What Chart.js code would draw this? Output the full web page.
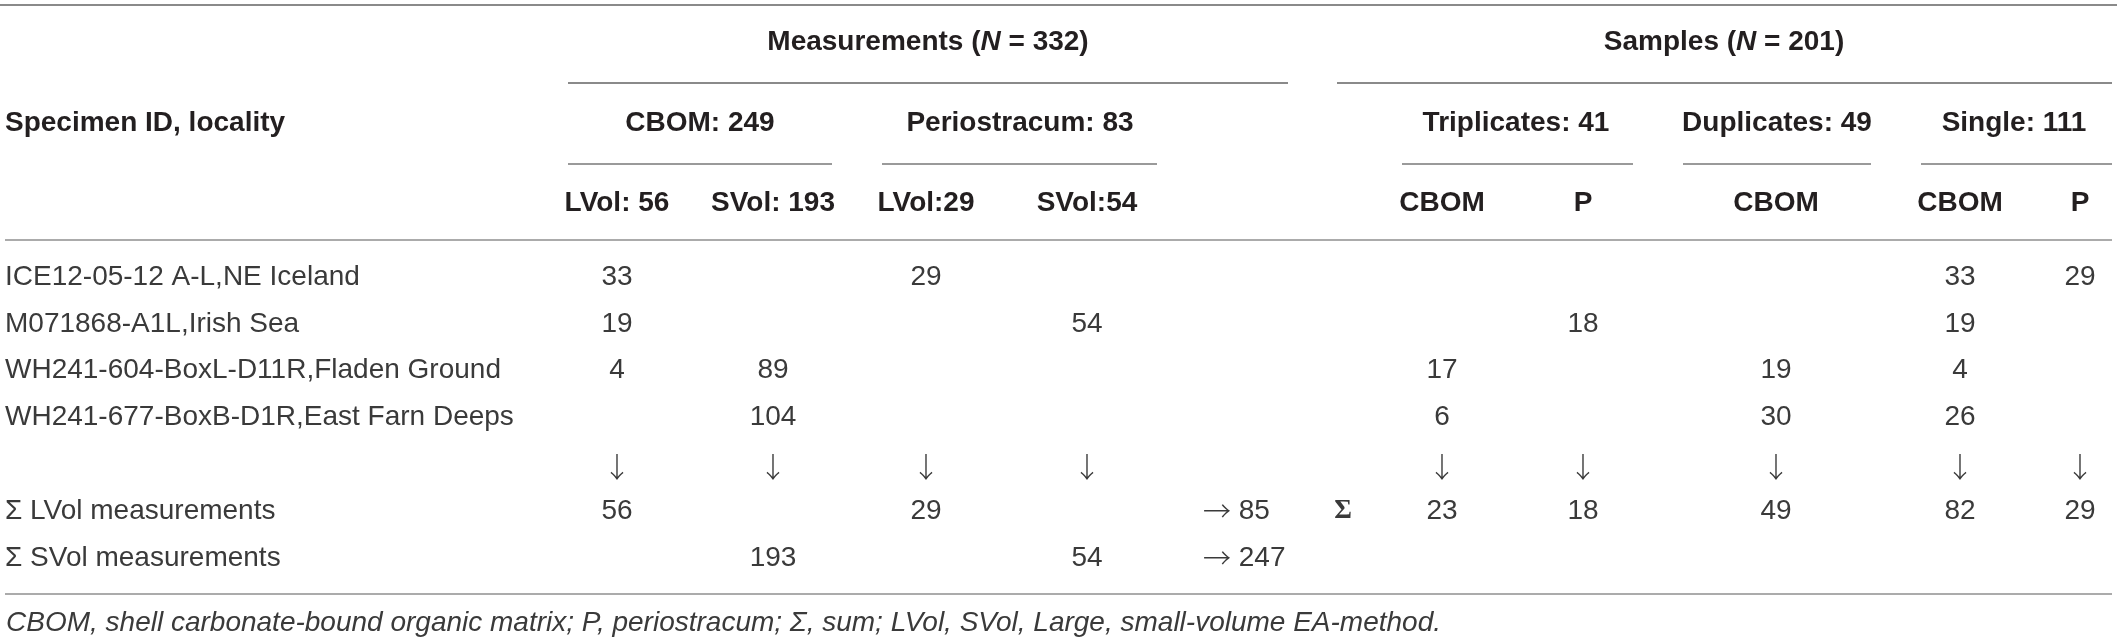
<!DOCTYPE html>
<html><head><meta charset="utf-8">
<script src="https://cdn.jsdelivr.net/npm/chart.js@4.4.1/dist/chart.umd.min.js"></script>
<style>html,body{margin:0;padding:0;background:#fff;overflow:hidden}canvas{display:block}</style>
</head><body>
<canvas id="c" width="2117" height="644"></canvas>
<script>
// ---------- DATA ----------
const specimens = [
  "ICE12-05-12 A-L,NE Iceland",
  "M071868-A1L,Irish Sea",
  "WH241-604-BoxL-D11R,Fladen Ground",
  "WH241-677-BoxB-D1R,East Farn Deeps"
];
const columns = ["cbomL", "cbomS", "periL", "periS", "tripC", "tripP", "dupC", "singC", "singP"];
const subHeaders = ["LVol: 56", "SVol: 193", "LVol:29", "SVol:54", "CBOM", "P", "CBOM", "CBOM", "P"];
const groupHeaders = ["CBOM: 249", "Periostracum: 83", "Triplicates: 41", "Duplicates: 49", "Single: 111"];
const topHeaders = ["Measurements", "Samples"];
const topCounts = ["332", "201"];
const stubHeader = "Specimen ID, locality";

const cbomLVol   = [33, 19, 4, null];
const cbomSVol   = [null, null, 89, 104];
const periLVol   = [29, null, null, null];
const periSVol   = [null, 54, null, null];
const tripCBOM   = [null, null, 17, 6];
const tripP      = [null, 18, null, null];
const dupCBOM    = [null, null, 19, 30];
const singleCBOM = [33, 19, 4, 26];
const singleP    = [29, null, null, null];

const arrowRow = ["↓", "↓", "↓", "↓", "↓", "↓", "↓", "↓", "↓"];
const sumLabels = ["Σ LVol measurements", "Σ SVol measurements"];
const sumLVol = [56, null, 29, null, 23, 18, 49, 82, 29];
const sumSVol = [null, 193, null, 54, null, null, null, null, null];
const totals = ["85", "247"];
const totalArrow = "→";
const sampleSigma = "Σ";
const footnote = "CBOM, shell carbonate-bound organic matrix; P, periostracum; Σ, sum; LVol, SVol, Large, small-volume EA-method.";

// ---------- LAYOUT / STYLE ----------
const W = 2117, H = 644;
const colX = { cbomL: 617, cbomS: 773, periL: 926, periS: 1087, tripC: 1442, tripP: 1583, dupC: 1776, singC: 1960, singP: 2080 };
const totalX = 1203, sigmaX = 1343, leftX = 5;
const groupX = [700, 1020, 1516, 1777, 2014];
const topX = [928, 1724];
const rowY = { top: 42, group: 123, sub: 203, body: [277, 324, 370, 417], arrow: 467, sumL: 511, sumS: 558, foot: 623 };
const rules = [
  { x1: 0, x2: 2117, y: 5, c: "#8a8a8a" },
  { x1: 568, x2: 1288, y: 83, c: "#8a8a8a" },
  { x1: 1337, x2: 2112, y: 83, c: "#8a8a8a" },
  { x1: 568, x2: 832, y: 164, c: "#9a9a9a" },
  { x1: 882, x2: 1157, y: 164, c: "#9a9a9a" },
  { x1: 1402, x2: 1633, y: 164, c: "#9a9a9a" },
  { x1: 1683, x2: 1871, y: 164, c: "#9a9a9a" },
  { x1: 1921, x2: 2112, y: 164, c: "#9a9a9a" },
  { x1: 5, x2: 2112, y: 240, c: "#ababab" },
  { x1: 5, x2: 2112, y: 594, c: "#ababab" }
];
const FONT = "'Liberation Sans', Arial, sans-serif";
const F_HEAD = "bold 28px " + FONT;
const F_HEAD_I = "italic bold 28px " + FONT;
const F_BODY = "28px " + FONT;
const F_ARROW = "300 28px 'Noto Sans CJK JP', 'DejaVu Sans', sans-serif";
const styles = {
  head:  { font: F_HEAD, color: "#231f20", align: "center" },
  headL: { font: F_HEAD, color: "#231f20", align: "left" },
  body:  { font: F_BODY, color: "#3a3a3a", align: "center" },
  bodyL: { font: F_BODY, color: "#3a3a3a", align: "left" },
  arrow: { font: F_ARROW, color: "#3a3a3a", align: "center" },
  sigma: { font: "bold 27px 'Liberation Serif', serif", color: "#3a3a3a", align: "center" },
  foot:  { font: "italic 28px " + FONT, color: "#3a3a3a", align: "left" }
};

// ---------- BUILD ----------
const bodyCols = [cbomLVol, cbomSVol, periLVol, periSVol, tripCBOM, tripP, dupCBOM, singleCBOM, singleP];
const texts = { head: [], headL: [], body: [], bodyL: [], arrow: [], sigma: [], foot: [] };
texts.headL.push({ x: leftX, y: rowY.group, t: stubHeader });
topHeaders.forEach((h, i) => texts.head.push({ x: topX[i], y: rowY.top, rich: [[h + " (", F_HEAD], ["N", F_HEAD_I], [" = " + topCounts[i] + ")", F_HEAD]] }));
groupHeaders.forEach((h, i) => texts.head.push({ x: groupX[i], y: rowY.group, t: h }));
subHeaders.forEach((h, i) => texts.head.push({ x: colX[columns[i]], y: rowY.sub, t: h }));
specimens.forEach((s, r) => {
  texts.bodyL.push({ x: leftX, y: rowY.body[r], t: s });
  bodyCols.forEach((col, c) => { if (col[r] !== null) texts.body.push({ x: colX[columns[c]], y: rowY.body[r], t: String(col[r]) }); });
});
arrowRow.forEach((a, c) => texts.arrow.push({ x: colX[columns[c]], y: rowY.arrow, t: a }));
texts.bodyL.push({ x: leftX, y: rowY.sumL, t: sumLabels[0] });
texts.bodyL.push({ x: leftX, y: rowY.sumS, t: sumLabels[1] });
sumLVol.forEach((v, c) => { if (v !== null) texts.body.push({ x: colX[columns[c]], y: rowY.sumL, t: String(v) }); });
sumSVol.forEach((v, c) => { if (v !== null) texts.body.push({ x: colX[columns[c]], y: rowY.sumS, t: String(v) }); });
texts.bodyL.push({ x: totalX, y: rowY.sumL, rich: [[totalArrow, F_ARROW], [" " + totals[0], F_BODY]] });
texts.bodyL.push({ x: totalX, y: rowY.sumS, rich: [[totalArrow, F_ARROW], [" " + totals[1], F_BODY]] });
texts.sigma.push({ x: sigmaX, y: rowY.sumL, t: sampleSigma });
texts.foot.push({ x: leftX + 1, y: rowY.foot, t: footnote });

const datasets = [];
rules.forEach(r => datasets.push({ type: "line", data: [{ x: r.x1, y: r.y }, { x: r.x2, y: r.y }], borderColor: r.c, borderWidth: 2, pointRadius: 0, showLine: true, fill: false, clip: false }));
Object.keys(texts).forEach(k => datasets.push({ type: "scatter", data: texts[k], textStyle: k, pointRadius: 0, clip: false }));

const textPlugin = {
  id: "cellText",
  afterDatasetsDraw(chart) {
    const ctx = chart.ctx;
    chart.data.datasets.forEach((ds, i) => {
      if (!ds.textStyle) return;
      const st = styles[ds.textStyle];
      const meta = chart.getDatasetMeta(i);
      ctx.save();
      ctx.fillStyle = st.color;
      ctx.textBaseline = "middle";
      meta.data.forEach((el, j) => {
        const d = ds.data[j];
        if (d.rich) {
          let w = 0;
          d.rich.forEach(p => { ctx.font = p[1]; w += ctx.measureText(p[0]).width; });
          let x = st.align === "center" ? el.x - w / 2 : el.x;
          ctx.textAlign = "left";
          d.rich.forEach(p => { ctx.font = p[1]; ctx.fillText(p[0], x, el.y); x += ctx.measureText(p[0]).width; });
        } else {
          ctx.font = st.font;
          ctx.textAlign = st.align;
          ctx.fillText(d.t, el.x, el.y);
        }
      });
      ctx.restore();
    });
  }
};

new Chart(document.getElementById("c"), {
  type: "scatter",
  data: { datasets },
  options: {
    responsive: false, animation: false, devicePixelRatio: 1,
    layout: { padding: 0 },
    plugins: { legend: { display: false }, tooltip: { enabled: false } },
    scales: {
      x: { type: "linear", min: 0, max: W, display: false },
      y: { type: "linear", min: 0, max: H, reverse: true, display: false }
    }
  },
  plugins: [textPlugin]
});
</script>
</body></html>
